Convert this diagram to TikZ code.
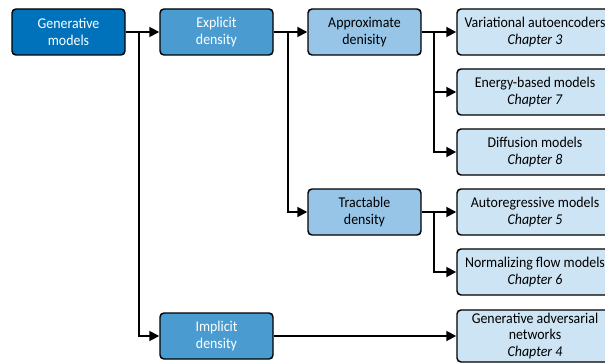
\documentclass[tikz,border=0pt]{standalone}
\usepackage{fontspec}
\setmainfont[FakeStretch=0.93]{Carlito}
\usetikzlibrary{arrows.meta}

\definecolor{gendark}{RGB}{0,114,187}
\definecolor{genmid}{RGB}{74,156,208}
\definecolor{genlight}{RGB}{150,197,232}
\definecolor{genpale}{RGB}{204,228,244}

\begin{document}
\begin{tikzpicture}[
        x=0.75pt, y=-0.75pt,
        font=\fontsize{11.2}{12.2}\selectfont,
        box/.style={draw=black, rounded corners=3pt, line width=1.1pt,
                    align=center, inner sep=2pt, minimum width=84.75pt, minimum height=34.5pt},
        top/.style={box, fill=gendark, text=white},
        mid/.style={box, fill=genmid, text=white},
        sub/.style={box, fill=genlight},
        leaf/.style={box, fill=genpale, minimum width=117pt},
        arr/.style={-{Triangle[length=7.5pt, width=7.5pt]}, line width=1.4pt}
    ]
    \useasboundingbox (0,0) rectangle (605,363);
    \node[top] (gen) at (68.5,32) {Generative\\models};
    \node[mid] (expl) at (216.5,32) {Explicit\\density};
    \node[mid] (impl) at (216.5,336) {Implicit\\density};
    \node[sub] (appr) at (364.5,32) {Approximate\\denisity};
    \node[sub] (trac) at (364.5,212) {Tractable\\density};
    \node[leaf] (vae) at (535,32) {Variational autoencoders\\\textit{Chapter 3}};
    \node[leaf] (ebm) at (535,92) {Energy-based models\\\textit{Chapter 7}};
    \node[leaf] (diff) at (535,152) {Diffusion models\\\textit{Chapter 8}};
    \node[leaf] (ar) at (535,212) {Autoregressive models\\\textit{Chapter 5}};
    \node[leaf] (flow) at (535,272) {Normalizing flow models\\\textit{Chapter 6}};
    \node[leaf, minimum height=39pt] (gan) at (535,336)
        {Generative adversarial\\networks\\\textit{Chapter 4}};
    \draw[arr] (gen) -- (expl);
    \draw[arr] (gen.east) -- ++(13,0) |- (impl);
    \draw[arr] (expl) -- (appr);
    \draw[arr] (expl.east) -- ++(14,0) |- (trac);
    \draw[arr] (appr) -- (vae);
    \draw[arr] (appr.east) -- ++(12,0) |- (ebm);
    \draw[arr] (appr.east) -- ++(12,0) |- (diff);
    \draw[arr] (trac) -- (ar);
    \draw[arr] (trac.east) -- ++(12,0) |- (flow);
    \draw[arr] (impl) -- (gan);
\end{tikzpicture}
\end{document}
